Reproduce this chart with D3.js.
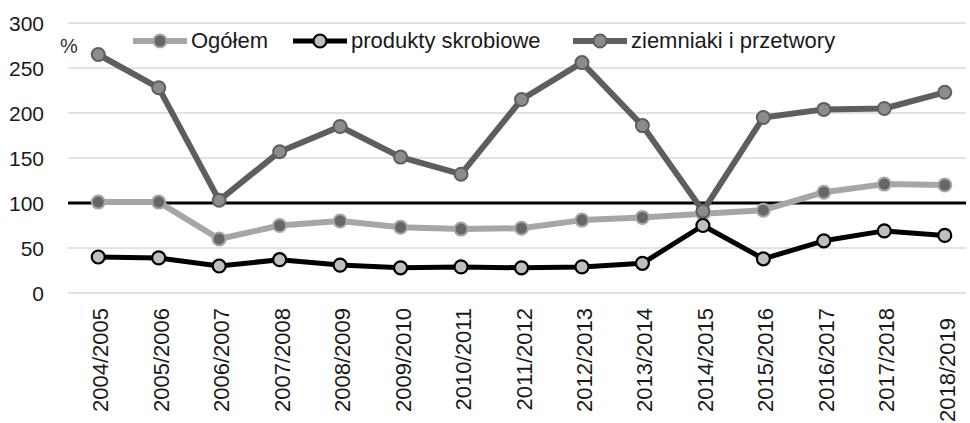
<!DOCTYPE html>
<html>
<head>
<meta charset="utf-8">
<script src="https://cdn.jsdelivr.net/npm/d3@7"></script>
<style>
  html, body { margin: 0; padding: 0; background: #fff; }
  svg { display: block; font-family: "Liberation Sans", Arial, sans-serif; }
</style>
</head>
<body>
<svg id="chart" width="970" height="423"></svg>
<script>
// Seasons on the category axis
const seasons = ["2004/2005","2005/2006","2006/2007","2007/2008","2008/2009","2009/2010","2010/2011",
  "2011/2012","2012/2013","2013/2014","2014/2015","2015/2016","2016/2017","2017/2018","2018/2019"];

// Series values, %
const ogolem      = [101, 101, 60, 75, 80, 73, 71, 72, 81, 84, 88, 92, 112, 121, 120];
const skrobiowe   = [40, 39, 30, 37, 31, 28, 29, 28, 29, 33, 75, 38, 58, 69, 64];
const ziemniaki   = [265, 228, 103, 157, 185, 151, 132, 215, 256, 186, 91, 195, 204, 205, 223];

const yTicks = [0, 50, 100, 150, 200, 250, 300];
const referenceValue = 100;

const series = [
  { name: "Ogółem", values: ogolem, line: "#a6a6a6", lw: 6, fill: "#666666", stroke: "#a6a6a6", sw: 2 },
  { name: "produkty skrobiowe", values: skrobiowe, line: "#000000", lw: 5, fill: "#bfbfbf", stroke: "#000000", sw: 2.2 },
  { name: "ziemniaki i przetwory", values: ziemniaki, line: "#5e5e5e", lw: 6, fill: "#8c8c8c", stroke: "#5e5e5e", sw: 2 }
];

const svg = d3.select("#chart");
const left = 68, right = 975, gridRight = 966;

const x = d3.scaleBand().domain(seasons).range([left, right]);
const y = d3.scaleLinear().domain([0, 300]).range([293, 23]);
const cx = d => x(d) + x.bandwidth() / 2;

// Horizontal gridlines
svg.append("g").selectAll("line").data(yTicks).join("line")
  .attr("x1", left).attr("x2", gridRight)
  .attr("y1", d => y(d)).attr("y2", d => y(d))
  .attr("stroke", "#d9d9d9").attr("stroke-width", 1.5);

// Y tick labels
svg.append("g").selectAll("text").data(yTicks).join("text")
  .attr("x", 44).attr("y", d => y(d)).attr("dy", "0.36em")
  .attr("text-anchor", "end").attr("font-size", 21).attr("fill", "#1a1a1a")
  .text(d => d);

svg.append("text").attr("x", 60).attr("y", 53).attr("font-size", 20).attr("fill", "#333").text("%");

// Reference line at 100 %
svg.append("line")
  .attr("x1", left).attr("x2", gridRight)
  .attr("y1", y(referenceValue)).attr("y2", y(referenceValue))
  .attr("stroke", "#000").attr("stroke-width", 3);

// X labels, rotated; the last one sits a little lower
svg.append("g").selectAll("text").data(seasons).join("text")
  .attr("transform", (d, i) => `translate(${cx(d) + 10},${i === seasons.length - 1 ? 318 : 308}) rotate(-90)`)
  .attr("text-anchor", "end").attr("font-size", 22).attr("fill", "#1a1a1a")
  .text(d => d);

// Lines and markers
const lineGen = d3.line().x((v, i) => cx(seasons[i])).y(v => y(v));
series.forEach(s => {
  const g = svg.append("g");
  g.append("path").attr("d", lineGen(s.values))
    .attr("fill", "none").attr("stroke", s.line).attr("stroke-width", s.lw)
    .attr("stroke-linejoin", "round");
  g.selectAll("circle").data(s.values).join("circle")
    .attr("cx", (v, i) => cx(seasons[i])).attr("cy", v => y(v)).attr("r", 6.5)
    .attr("fill", s.fill).attr("stroke", s.stroke).attr("stroke-width", s.sw);
});

// Legend
const legendItems = [
  { s: series[0], x0: 133 },
  { s: series[1], x0: 293 },
  { s: series[2], x0: 573 }
];
const lg = svg.append("g");
legendItems.forEach(({ s, x0 }) => {
  lg.append("line").attr("x1", x0).attr("x2", x0 + 54).attr("y1", 41).attr("y2", 41)
    .attr("stroke", s.line).attr("stroke-width", s.lw);
  lg.append("circle").attr("cx", x0 + 27).attr("cy", 41).attr("r", 6.5)
    .attr("fill", s.fill).attr("stroke", s.stroke).attr("stroke-width", s.sw);
  lg.append("text").attr("x", x0 + 58).attr("y", 48).attr("font-size", 22).attr("fill", "#1a1a1a")
    .text(s.name);
});
</script>
</body>
</html>
